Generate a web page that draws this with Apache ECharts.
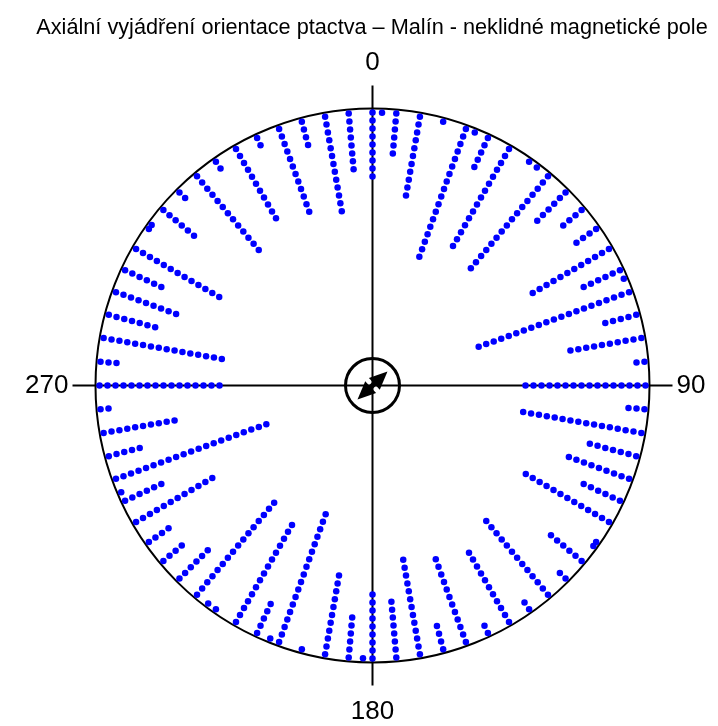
<!DOCTYPE html>
<html>
<head>
<meta charset="utf-8">
<title>Axiální vyjádření orientace ptactva</title>
<script src="https://cdn.jsdelivr.net/npm/echarts@6/dist/echarts.min.js"></script>
<style>
  html, body { margin: 0; padding: 0; background: #fff; }
  #chart { width: 718px; height: 726px; }
</style>
</head>
<body>
<div id="chart"></div>
<script>
// směry (stupně, 0–180) a počet ptáků v každém směru
const angles = [0, 2, 5, 10, 15, 20, 22, 25, 30, 35, 37, 40, 45, 50, 55, 60, 65, 67, 70, 75,
  80, 85, 90, 95, 100, 105, 110, 115, 120, 125, 126, 130, 135, 140, 145, 150, 155, 160, 165, 170, 175]
const counts = [9, 1, 6, 11, 1, 18, 1, 5, 15, 1, 1, 16, 6, 4, 4, 12, 6, 1, 21, 5,
  10, 2, 16, 3, 16, 7, 9, 6, 13, 1, 1, 6, 2, 13, 2, 11, 2, 12, 4, 13, 8]

// popisky os
const tickLabels = ['0', '90', '180', '270']

// střední osový směr a délka středního vektoru
const meanAngle = 47
const meanLength = 0.074

const center = [372.5, 385.5]
const R = 277        // poloměr kruhu v px
const step = 8       // rozestup teček v px
const rMax = R / step

// osové zobrazení: každé pozorování se kreslí v θ i θ + 180
const points = []
angles.forEach((a, i) => {
  for (let k = 0; k < counts[i]; k++) {
    const r = rMax - 0.5 - k
    points.push([r, a])
    points.push([r, a + 180])
  }
})

const font = "'Liberation Sans', Arial, sans-serif"
const rArrow = (meanLength * R - 9) / step

const chart = echarts.init(document.getElementById('chart'))

const option = {
  animation: false,
  title: {
    text: 'Axiální vyjádření orientace ptactva – Malín - neklidné magnetické pole',
    left: 367,
    textAlign: 'center',
    top: 12,
    textStyle: { fontFamily: font, fontSize: 21.7, fontWeight: 'normal', color: '#000' }
  },
  polar: [
    { center: center, radius: R },
    { center: center, radius: R + 23 },
    { center: center, radius: 27 }
  ],
  angleAxis: [
    {
      polarIndex: 0, type: 'value', min: 0, max: 360, startAngle: 90, clockwise: true,
      axisLine: { lineStyle: { color: '#000', width: 2 } },
      axisTick: { show: false }, axisLabel: { show: false }, splitLine: { show: false }
    },
    {
      polarIndex: 1, type: 'value', min: 0, max: 360, interval: 90, startAngle: 90, clockwise: true,
      axisLine: { show: false }, axisTick: { show: false },
      splitLine: { show: true, lineStyle: { color: '#000', width: 2 } },
      axisLabel: {
        margin: 4,
        fontFamily: font,
        fontSize: 26,
        color: '#000',
        formatter: function (v) {
          if (v >= 360) return ''
          const t = tickLabels[v / 90]
          if (v === 0) return '{t|' + t + '}'
          if (v === 180) return '{b|' + t + '}'
          return '{h|' + t + '}'
        },
        rich: {
          t: { fontFamily: font, fontSize: 26, color: '#000', padding: [0, 0, 6, 0] },
          b: { fontFamily: font, fontSize: 26, color: '#000', padding: [9, 0, 0, 0] },
          h: { fontFamily: font, fontSize: 26, color: '#000' }
        }
      }
    },
    {
      polarIndex: 2, type: 'value', min: 0, max: 360, startAngle: 90, clockwise: true,
      axisLine: { lineStyle: { color: '#000', width: 3 } },
      axisTick: { show: false }, axisLabel: { show: false }, splitLine: { show: false }
    }
  ],
  radiusAxis: [
    { polarIndex: 0, min: 0, max: rMax, show: false },
    { polarIndex: 1, min: 0, max: 1, show: false },
    { polarIndex: 2, min: 0, max: 1, show: false }
  ],
  series: [
    {
      name: 'ptáci',
      type: 'scatter',
      coordinateSystem: 'polar',
      polarIndex: 0,
      symbol: 'circle',
      symbolSize: 6.5,
      itemStyle: { color: '#0000ff', opacity: 1 },
      data: points,
      z: 3
    },
    {
      name: 'střední směr',
      type: 'line',
      coordinateSystem: 'polar',
      polarIndex: 0,
      symbol: 'triangle',
      symbolSize: [16, 18],
      lineStyle: { color: '#000', width: 5 },
      itemStyle: { color: '#000' },
      data: [
        { value: [rArrow, meanAngle + 180], symbolRotate: -(meanAngle + 180) },
        { value: [rArrow, meanAngle], symbolRotate: -meanAngle }
      ],
      z: 4
    }
  ]
}

chart.setOption(option)
</script>
</body>
</html>
